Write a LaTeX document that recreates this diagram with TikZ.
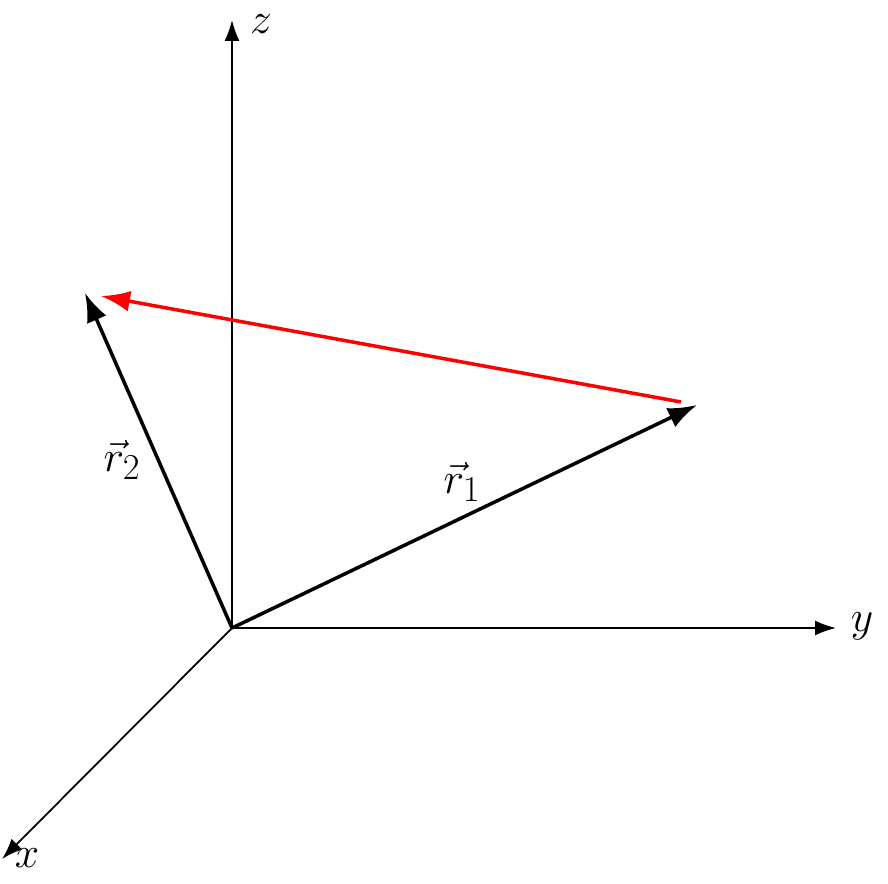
\documentclass[tikz,border=0pt]{standalone}
\usetikzlibrary{arrows.meta}
\begin{document}
\begin{tikzpicture}[x=0.02cm,y=-0.02cm,
  axis/.style={line width=1pt,-{Latex[length=0.42cm,width=0.3cm]}},
  vec/.style={line width=2pt,-{Latex[length=0.58cm,width=0.42cm]}},
  lbl/.style={font=\fontsize{24.88}{30}\selectfont,inner sep=0pt}]
\useasboundingbox (0,0) rectangle (888,884);
\coordinate (O) at (232,628);
\coordinate (Z) at (232,20);
\coordinate (Y) at (836,628);
\coordinate (X) at (2,859);
\coordinate (R1) at (697,405);
\coordinate (R2) at (85,293);
\coordinate (S) at (681,402);
\coordinate (T) at (101,296);
\draw[axis] (O) -- (Z);
\draw[axis] (O) -- (Y);
\draw[axis] (O) -- (X);
\node[lbl] (lz) at (261,24) {$z$};
\node[lbl] (ly) at (862,626) {$y$};
\node[lbl] (lx) at (27,858) {$x$};
\draw[vec] (O) -- (R1);
\draw[vec] (O) -- (R2);
\draw[vec,red] (S) -- (T);
\node[lbl] (l1) at (462,482) {$\vec r_1$};
\node[lbl] (l2) at (122,460) {$\vec r_2$};
\end{tikzpicture}
\end{document}
